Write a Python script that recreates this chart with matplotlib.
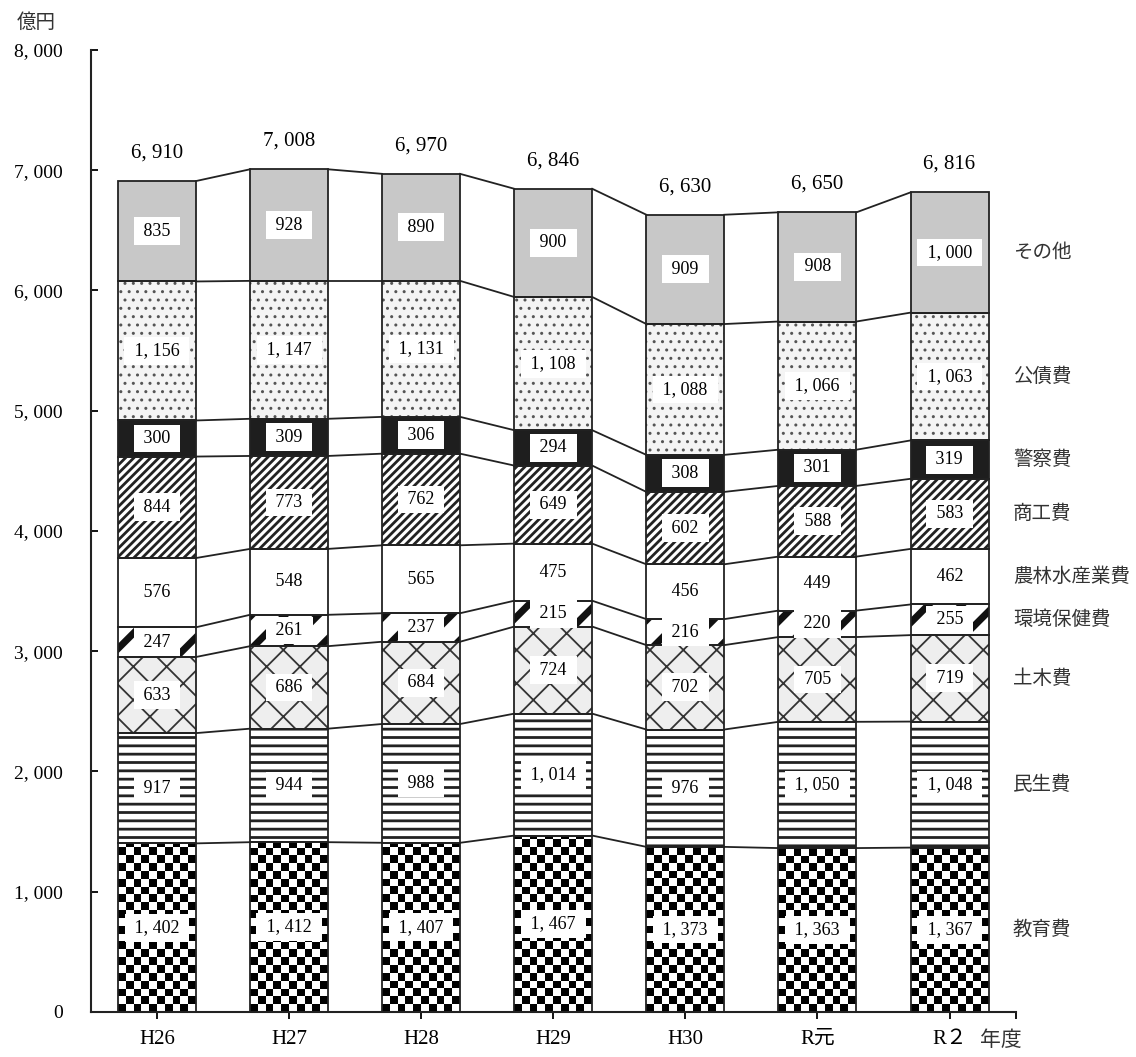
import matplotlib
matplotlib.use('Agg')
import numpy as np
import matplotlib.pyplot as plt

plt.rcParams['font.family'] = ['Liberation Serif', 'Noto Sans CJK JP']

# data (億円)
years = ['H26', 'H27', 'H28', 'H29', 'H30', 'R元', 'R２']
items = ['教育費', '民生費', '土木費', '環境保健費', '農林水産業費',
         '商工費', '警察費', '公債費', 'その他']
kyoiku = [1402, 1412, 1407, 1467, 1373, 1363, 1367]
minsei = [917, 944, 988, 1014, 976, 1050, 1048]
doboku = [633, 686, 684, 724, 702, 705, 719]
kankyo = [247, 261, 237, 215, 216, 220, 255]
norin = [576, 548, 565, 475, 456, 449, 462]
shoko = [844, 773, 762, 649, 602, 588, 583]
keisatsu = [300, 309, 306, 294, 308, 301, 319]
kosai = [1156, 1147, 1131, 1108, 1088, 1066, 1063]
sonota = [835, 928, 890, 900, 909, 908, 1000]
totals = [6910, 7008, 6970, 6846, 6630, 6650, 6816]
yticks = [0, 1000, 2000, 3000, 4000, 5000, 6000, 7000, 8000]

series = [kyoiku, minsei, doboku, kankyo, norin, shoko, keisatsu, kosai, sonota]

# (face, hatch, hatch colour, hatch linewidth)
styles = [
    ('white', None, 'black', 1.0),       # checkerboard drawn separately
    ('white', '--', '#222222', 2.0),
    ('#eeeeee', 'x', '#333333', 1.3),
    ('white', '/', '#111111', 5.0),
    ('white', None, 'black', 1.0),
    ('white', '////', '#222222', 2.0),
    ('#1e1e1e', None, '#1e1e1e', 1.0),
    ('#f4f4f4', '..', '#555555', 1.0),
    ('#c8c8c8', None, '#c8c8c8', 1.0),
]

def fmt(v):
    return '{:,}'.format(v).replace(',', ', ')

fig = plt.figure(figsize=(11.36, 10.57), dpi=100)
ax = fig.add_axes([0.080, 0.0426, 0.814, 0.9101])

x = np.arange(len(years))
w = 0.59
bottom = np.zeros(len(years))
levels = []

for k, vals in enumerate(series):
    vals = np.array(vals, dtype=float)
    face, hatch, hcol, hlw = styles[k]
    bars = ax.bar(x, vals, w, bottom=bottom, color=face, edgecolor=hcol,
                  linewidth=0, hatch=hatch, zorder=1)
    for p in bars:
        try:
            p.set_hatch_linewidth(hlw)
        except AttributeError:
            pass
    if k == 0:
        # checkerboard for 教育費
        sq = 65.0
        for i, p in enumerate(bars):
            nrows = int(np.ceil(vals[i] / sq))
            arr = (np.add.outer(np.arange(nrows), np.arange(10)) % 2).astype(float)
            im = ax.imshow(arr, cmap='gray', interpolation='nearest', origin='lower',
                           aspect='auto', extent=(x[i] - w / 2, x[i] + w / 2, 0, nrows * sq),
                           zorder=1.5)
            im.set_clip_path(p)
    ax.bar(x, vals, w, bottom=bottom, fill=False, edgecolor='#222222',
           linewidth=1.3, zorder=2)
    for i in range(len(years)):
        ax.text(x[i], bottom[i] + vals[i] / 2, ' ' + fmt(int(vals[i])) + ' ',
                ha='center', va='center', fontsize=13, zorder=4,
                bbox=dict(boxstyle='square,pad=0.3', fc='white', ec='none'))
    # category label at the right
    ax.text(6.48, bottom[-1] + vals[-1] / 2, items[k], ha='left', va='center',
            fontsize=14, family='Noto Sans CJK JP', color='#333333')
    bottom = bottom + vals
    levels.append(bottom.copy())

# connecting lines between bars
for lev in levels:
    for i in range(len(years) - 1):
        ax.plot([x[i] + w / 2, x[i + 1] - w / 2], [lev[i], lev[i + 1]],
                color='#222222', linewidth=1.3, zorder=2)

for i, t in enumerate(totals):
    ax.text(x[i], t + 233, fmt(t), ha='center', va='center', fontsize=15)

ax.set_xlim(-0.5, 6.5)
ax.set_ylim(0, 8000)
ax.set_yticks(yticks)
ax.set_yticklabels([fmt(v) for v in yticks], fontsize=14)
ax.set_xticks(x)
ax.set_xticklabels(years, fontsize=15)
ax.set_xticks([6.5], minor=True)
ax.tick_params(axis='y', direction='in', length=5, width=1.3, pad=20)
ax.tick_params(axis='x', which='both', direction='out', length=5, width=1.3, pad=8)
for s in ['top', 'right']:
    ax.spines[s].set_visible(False)
for s in ['left', 'bottom']:
    ax.spines[s].set_linewidth(1.5)
    ax.spines[s].set_color('#222222')

ax.text(6.39, -235, '年度', ha='center', va='center', fontsize=15,
        family='Noto Sans CJK JP', color='#333333')
fig.text(0.032, 0.979, '億円', ha='center', va='center', fontsize=14,
         family='Noto Sans CJK JP', color='#333333')

fig.savefig('out.png', dpi=100)
